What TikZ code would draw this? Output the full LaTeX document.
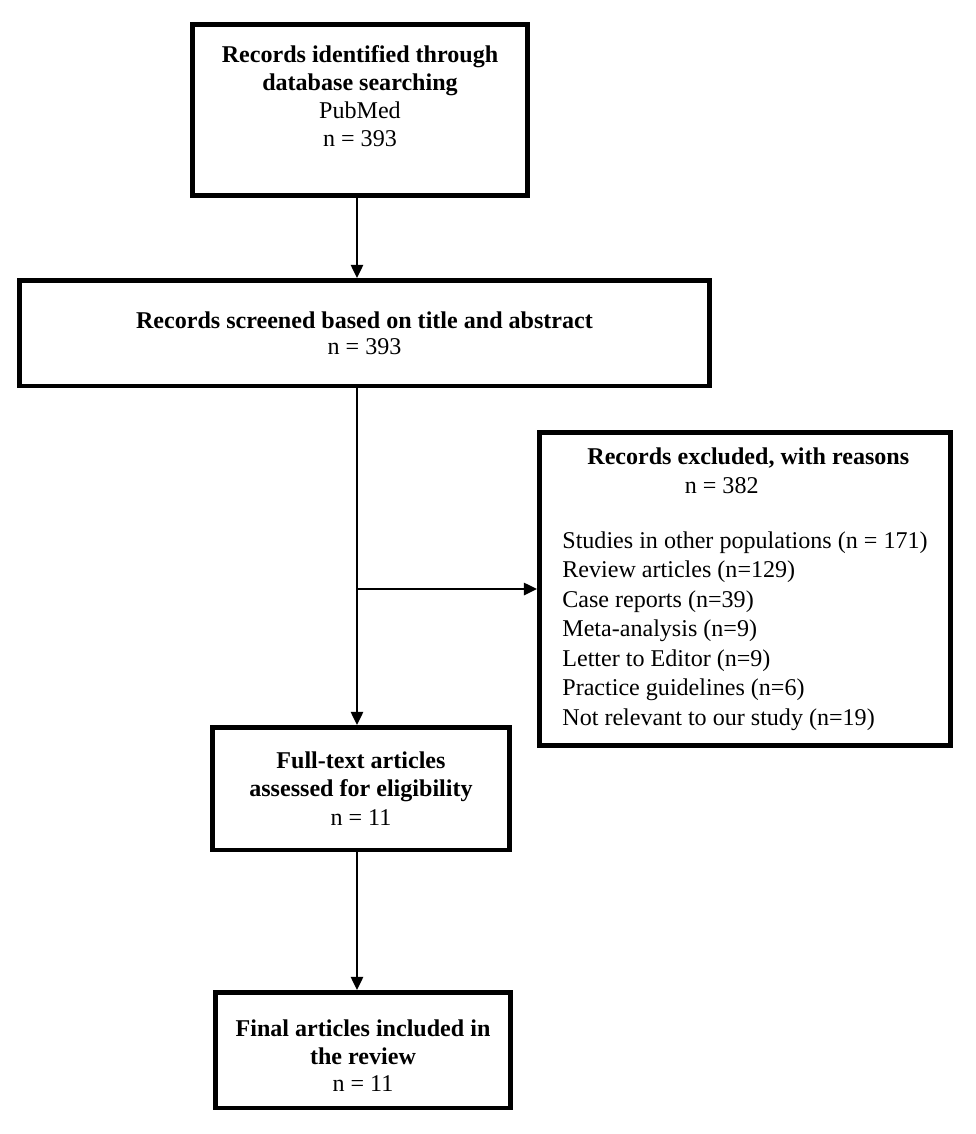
\documentclass[tikz,border=0pt]{standalone}
\usepackage{fontspec}
\setmainfont{Liberation Serif}
\usetikzlibrary{arrows.meta}

\begin{document}
\begin{tikzpicture}[
    x=0.02cm, y=-0.02cm,
    >={Triangle[length=7.5pt, width=7pt]},
    flowbox/.style={draw=black, line width=0.09cm, inner sep=0pt, align=center, font=\fontsize{13.7}{16}\selectfont},
    flowarrow/.style={->, line width=0.04cm},
]
\useasboundingbox (0,0) rectangle (975,1134);

% === Main column ===
\node[flowbox, minimum width=6.71cm, minimum height=3.43cm] (records) at (360, 110) {%
    \textbf{Records identified through}\\ \textbf{database searching}\\ PubMed\\ n = 393\\ \mbox{}};
\node[flowbox, minimum width=13.81cm, minimum height=2.11cm, font=\fontsize{13.7}{14.8}\selectfont] (screen) at (364.5, 333) {%
    \textbf{Records screened based on title and abstract}\\ n = 393};
\node[flowbox, minimum width=5.95cm, minimum height=2.45cm, font=\fontsize{13.7}{16.4}\selectfont] (fulltext) at (361, 788.5) {%
    \textbf{Full-text articles}\\ \textbf{assessed for eligibility}\\ n = 11};
\node[flowbox, minimum width=5.91cm, minimum height=2.31cm, font=\fontsize{13.7}{15.6}\selectfont] (final) at (363, 1050) {%
    \rule{0pt}{16pt}\textbf{Final articles included in}\\ \textbf{the review}\\ n = 11};

% === Exclusion box ===
\node[flowbox, minimum width=8.23cm, minimum height=6.27cm, align=left, font=\fontsize{13.7}{16.8}\selectfont] (excluded) at (745, 589) {%
    \hspace*{0.5cm}\textbf{Records excluded, with reasons}\\
    \hspace*{2.45cm}n = 382\\[14pt]
    Studies in other populations (n = 171)\\
    Review articles (n=129)\\
    Case reports (n=39)\\
    Meta-analysis (n=9)\\
    Letter to Editor (n=9)\\
    Practice guidelines (n=6)\\
    Not relevant to our study (n=19)};

% === Connectors ===
\coordinate (spine) at (357, 0);
\draw[flowarrow] (records.south -| spine) -- (screen.north -| spine);
\draw[flowarrow] (screen.south -| spine) -- (fulltext.north -| spine);
\draw[flowarrow] (excluded.west -| spine) -- (excluded.west);
\draw[flowarrow] (fulltext.south -| spine) -- (final.north -| spine);

\end{tikzpicture}
\end{document}
